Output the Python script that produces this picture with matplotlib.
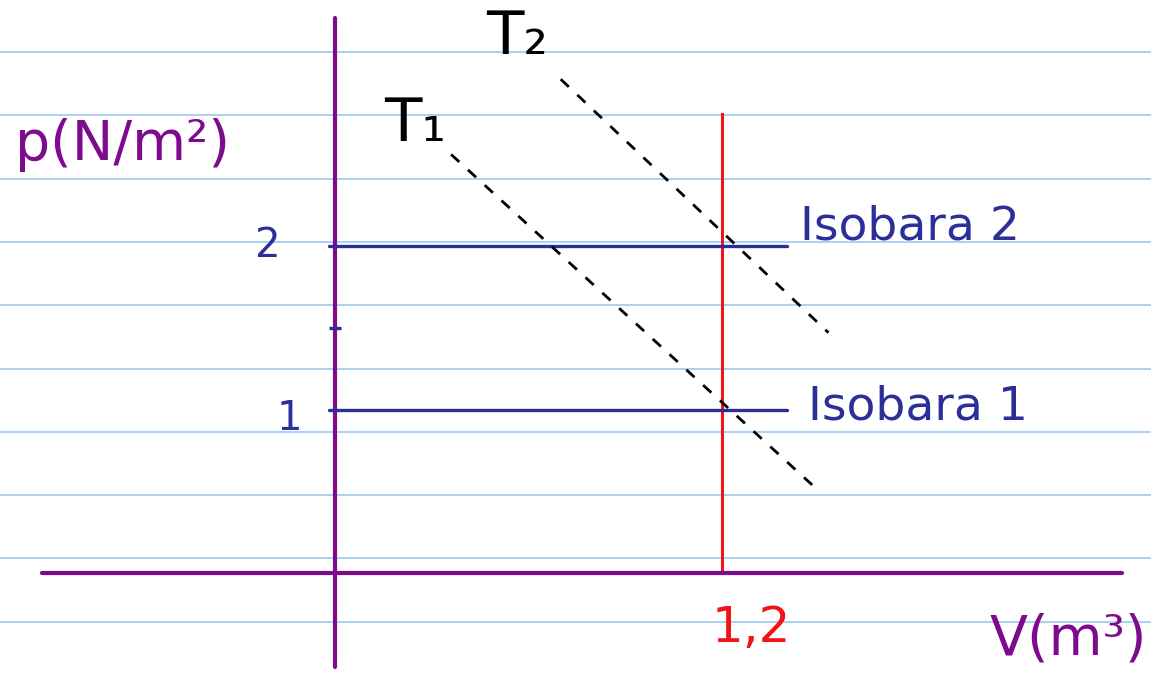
import matplotlib
matplotlib.use("Agg")
import matplotlib.pyplot as plt

# --- data -------------------------------------------------------------
# two isobars: pressure (N/m²) and the volume range they span (m³)
isobar_p = [1, 2]
isobar_labels = ["Isobara 1", "Isobara 2"]
isobar_v = [-0.02, 1.40]

# marked volume on the V axis (m³) and the tick values on the p axis
v_mark = 1.2
v_mark_label = "1,2"
p_tick_values = [1, 2]
p_tick_labels = ["1", "2"]
p_minor_tick = [1.5]

# isotherms, sketched as straight dashed guides (V in m³, p in N/m²)
t1_v = [0.36, 1.49]
t1_p = [2.56, 0.52]
t2_v = [0.70, 1.53]
t2_p = [3.02, 1.47]
iso_labels = ["T₁", "T₂"]

# --- style ------------------------------------------------------------
PURPLE = "#7e0a8e"
BLUE = "#2c2f98"
RED = "#f21414"
RULE = "#a9d0f5"

W, H, DPI = 1151, 683, 100
fig = plt.figure(figsize=(W / DPI, H / DPI), dpi=DPI)
ax = fig.add_axes([0, 0, 1, 1])
ax.set_facecolor("white")

# pixel layout: origin at (335, 573), 322.5 px per m³, 163.5 px per N/m²
x0, y0, sx, sy = 335.0, 573.0, 322.5, 163.5
ax.set_xlim((0 - x0) / sx, (W - x0) / sx)
ax.set_ylim((y0 - H) / sy, y0 / sy)
ax.set_axis_off()

# ruled notebook lines
for k in range(10):
    yf = 1 - (52 + 63.3 * k) / H
    ax.plot([0, 1], [yf, yf], transform=ax.transAxes, color=RULE,
            lw=1.4, zorder=0, solid_capstyle="butt")

# hand-drawn axes
ax.axvline(0, ymin=1 - 667 / H, ymax=1 - 18 / H, color=PURPLE, lw=3.0,
           zorder=3, solid_capstyle="round")
ax.axhline(0, xmin=42 / W, xmax=1122 / W, color=PURPLE, lw=3.0,
           zorder=3, solid_capstyle="round")

# marked volume (red vertical)
ax.plot([v_mark, v_mark], [0, 2.81], color=RED, lw=2.2, zorder=2)

# isobars
for p in isobar_p:
    ax.plot(isobar_v, [p, p], color=BLUE, lw=2.4, zorder=4,
            solid_capstyle="round")

# small tick on the p axis
ax.plot([0] * len(p_minor_tick), p_minor_tick, linestyle="none",
        marker="_", markersize=9, markeredgewidth=2.4, color=BLUE, zorder=5)

# isotherms
for vs, ps in ((t1_v, t1_p), (t2_v, t2_p)):
    ax.plot(vs, ps, color="black", lw=2.0, linestyle=(0, (4, 4.2)),
            zorder=5)

# --- text -------------------------------------------------------------
# p-axis tick labels
for val, lab, dx, dy in zip(p_tick_values, p_tick_labels, (-46, -67), (-10, 0)):
    ax.annotate(lab, (0, val), xytext=(dx, dy), textcoords="offset pixels",
                ha="center", va="center", fontsize=29, color=BLUE)

# isobar labels
for p, lab, dx, dy in zip(isobar_p, isobar_labels, (131, 124), (2, 19)):
    ax.annotate(lab, (isobar_v[1], p), xytext=(dx, dy),
                textcoords="offset pixels", ha="center", va="center",
                fontsize=34, color=BLUE)

# isotherm labels
for vs, ps, lab, off in ((t1_v, t1_p, iso_labels[0], (-36, 30)),
                         (t2_v, t2_p, iso_labels[1], (-44, 42))):
    ax.annotate(lab, (vs[0], ps[0]), xytext=off, textcoords="offset pixels",
                ha="center", va="center", fontsize=44, color="black")

# marked volume label
ax.annotate(v_mark_label, (v_mark, 0), xytext=(29, -55),
            textcoords="offset pixels", ha="center", va="center",
            fontsize=36, color=RED)

# axis titles
ax.text(123 / W, 1 - 145 / H, "p(N/m²)", transform=ax.transAxes,
        ha="center", va="center", fontsize=40, color=PURPLE)
ax.text(1068 / W, 1 - 640 / H, "V(m³)", transform=ax.transAxes,
        ha="center", va="center", fontsize=40, color=PURPLE)

fig.savefig("out.png", dpi=DPI)
